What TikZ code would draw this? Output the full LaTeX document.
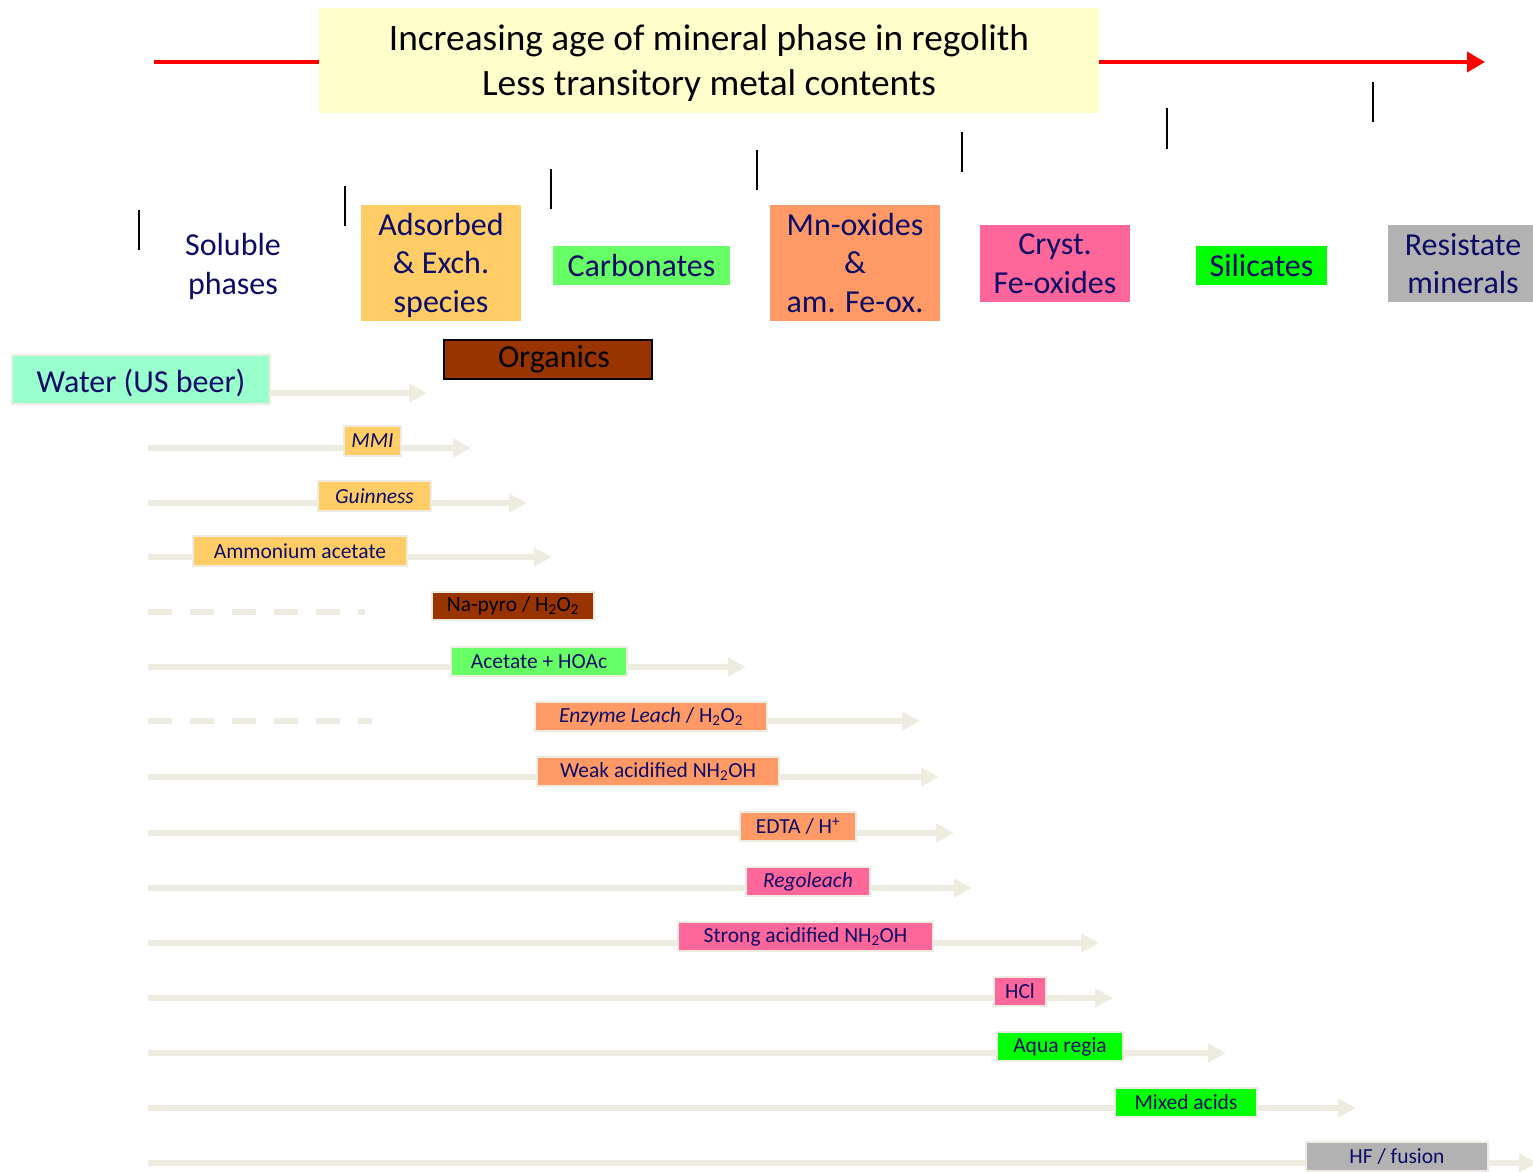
\documentclass[tikz,border=0pt]{standalone}
\usepackage{fontspec}
\setmainfont{Carlito}
\usetikzlibrary{arrows.meta}
\definecolor{navy}{HTML}{0C0C66}
\definecolor{barc}{HTML}{EEECE1}
\definecolor{titley}{HTML}{FFFFCC}
\definecolor{adsc}{HTML}{FFCC66}
\definecolor{carbc}{HTML}{66FF66}
\definecolor{mnc}{HTML}{FF9966}
\definecolor{fec}{HTML}{FF6699}
\definecolor{silc}{HTML}{00FF00}
\definecolor{resc}{HTML}{B2B2B2}
\definecolor{orgc}{HTML}{993300}
\definecolor{watc}{HTML}{99FFCC}
\begin{document}
\begin{tikzpicture}[x=1pt,y=-1pt,
  bar/.style={draw=barc,line width=6pt,-{Triangle[length=18pt,width=18pt]}},
  dbar/.style={draw=barc,line width=6pt,dash pattern=on 24pt off 18pt},
  tick/.style={draw=black,line width=2pt},
  cat/.style={inner sep=0pt,text=navy,align=center,font=\fontsize{32}{38.5}\selectfont},
  lab/.style={draw=barc,line width=2pt,inner sep=0pt,text=navy,font=\fontsize{21.5}{25}\selectfont}]
\useasboundingbox (0,0) rectangle (1533,1171);
\clip (0,0) rectangle (1533,1171);
% red arrow and title
\coordinate (ra) at (154,62);
\coordinate (rb) at (1485,62);
\draw[red,line width=4pt,-{Triangle[length=18pt,width=20pt]}] (ra) -- (rb);
\node[fill=titley,minimum width=780pt,minimum height=105pt,inner sep=0pt] (title) at (709,60.5) {};
\node[inner sep=0pt,align=center,font=\fontsize{37.3}{45}\selectfont] (titletxt) at ([yshift=-3pt]title.center)
  {Increasing age of mineral phase in regolith\\Less transitory metal contents};
% ticks
\foreach \x/\ya/\yb/\n in {139/210/250/1,345/186/226/2,551/169/209/3,757/150/190/4,962/132/172/5,1167/108/149/6,1373/82/122/7}{
  \coordinate (ta\n) at (\x,\ya); \coordinate (tb\n) at (\x,\yb);
  \draw[tick] (ta\n) -- (tb\n);}
% categories
\node[cat] (sol) at (233,266.5) {Soluble\\phases};
\node[cat,fill=adsc,minimum width=160pt,minimum height=116pt] (ads) at (441,263) {};
\node[cat] (adstxt) at ([yshift=-2pt]ads.center) {Adsorbed\\\& Exch.\\species};
\node[cat,fill=carbc,minimum width=177pt,minimum height=39pt] (carb) at (641.5,265.5) {Carbonates};
\node[cat,fill=mnc,minimum width=170pt,minimum height=116pt] (mn) at (855,263) {Mn-oxides\\\&\\am. Fe-ox.};
\node[cat,fill=fec,minimum width=150pt,minimum height=77pt] (fe) at (1055,263.5) {Cryst.\\Fe-oxides};
\node[cat,fill=silc,minimum width=131pt,minimum height=39pt] (sil) at (1261.5,265.5) {Silicates};
\node[cat,fill=resc,minimum width=150pt,minimum height=77pt] (res) at (1463,263.5) {Resistate\\minerals};
\node[cat,fill=orgc,draw=black,line width=2pt,minimum width=208pt,minimum height=39pt,text=black] (org) at (548,359.5) {\hspace*{12pt}Organics};
% rows: coordinates
\foreach \n/\y/\t in {2/448/471,3/503/527,4/557/552,6/667/746,8/777/939,9/833/954,10/888/972,11/943/1099,12/998/1113,13/1053/1226,14/1108/1356,15/1163/1537}{
  \coordinate (s\n) at (148,\y); \coordinate (t\n) at (\t,\y);
  \draw[bar] (s\n) -- (t\n);}
\coordinate (s5) at (148,612); \coordinate (e5) at (365,612);
\draw[dbar] (s5) -- (e5);
\coordinate (s7) at (148,721); \coordinate (e7) at (372,721); \coordinate (t7) at (920,721);
\draw[dbar] (s7) -- (e7);
\coordinate (t1) at (427,393);
% water
\node[cat,fill=watc,draw=barc,line width=2pt,minimum width=258pt,minimum height=49pt] (wat) at (141,379.5) {};
\node[cat] (wattxt) at ([yshift=-4pt]wat.center) {Water (US beer)};
\draw[bar] (wat.east |- t1) -- (t1);
% labels
\node[lab,fill=adsc,minimum width=57pt,minimum height=30pt] (mmi) at (372.5,441) {\itshape MMI};
\node[lab,fill=adsc,minimum width=113pt,minimum height=30pt] (gui) at (374.5,496) {\itshape Guinness};
\node[lab,fill=adsc,minimum width=214pt,minimum height=30pt] (amm) at (300,551) {Ammonium acetate};
\node[lab,fill=orgc,minimum width=162pt,minimum height=28pt,text=black] (nap) at (513,606) {Na-pyro / H\textsubscript{2}O\textsubscript{2}};
\node[lab,fill=carbc,minimum width=176pt,minimum height=29pt] (ace) at (539,661.5) {Acetate + HOAc};
\node[lab,fill=mnc,minimum width=232pt,minimum height=29pt] (enz) at (651,716.5) {\textit{Enzyme Leach} / H\textsubscript{2}O\textsubscript{2}};
\draw[bar] (enz.east |- t7) -- (t7);
\node[lab,fill=mnc,minimum width=242pt,minimum height=29pt] (weak) at (658,771.5) {Weak acidified NH\textsubscript{2}OH};
\node[lab,fill=mnc,minimum width=116pt,minimum height=29pt] (edta) at (798,826.5) {EDTA / H\textsuperscript{+}};
\node[lab,fill=fec,minimum width=124pt,minimum height=29pt] (rego) at (808,881.5) {\itshape Regoleach};
\node[lab,fill=fec,minimum width=255pt,minimum height=29pt] (strong) at (805.5,936.5) {Strong acidified NH\textsubscript{2}OH};
\node[lab,fill=fec,minimum width=52pt,minimum height=29pt] (hcl) at (1020,991.5) {HCl};
\node[lab,fill=silc,minimum width=126pt,minimum height=29pt] (aqua) at (1060,1046.5) {Aqua regia};
\node[lab,fill=silc,minimum width=142pt,minimum height=29pt] (mix) at (1186,1102.5) {Mixed acids};
\node[lab,fill=resc,minimum width=182pt,minimum height=29pt] (hf) at (1397,1156.5) {HF / fusion};
\end{tikzpicture}
\end{document}
